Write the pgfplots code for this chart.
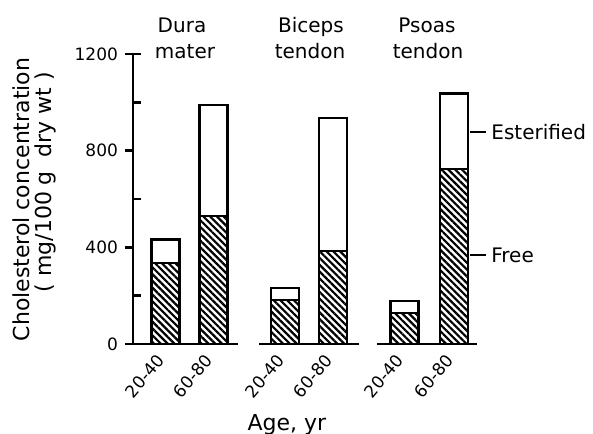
\documentclass[border=0pt]{standalone}
\usepackage{fontspec}
\setmainfont{DejaVu Sans}
\usepackage{pgfplots}
\pgfplotsset{compat=1.18}
\usetikzlibrary{patterns.meta}
% values in mg/100 g dry wt; x positions of bars
\pgfplotstableread{
x      free  total
165.5  335   434
213.5  530   989
285    182   232
333    385   935
404.5  128   178
454    724   1038
}\bars
\begin{document}
\begin{tikzpicture}
\begin{axis}[
  x=0.5pt, y=0.120833pt,
  xmin=133, xmax=480, ymin=0, ymax=1200,
  clip=false,
  axis x line*=bottom, axis y line*=left,
  x axis line style={draw=none},
  y axis line style={-, line width=1.4pt},
  tick align=outside, major tick length=4pt,
  ytick={0,400,800,1200},
  extra y ticks={200,600,1000,1200},
  extra y tick labels={},
  extra y tick style={major tick length=-4pt},
  ytick style={line width=1.2pt, black},
  xtick={165.5,213.5,285,333,404.5,454},
  xticklabels={20-40,60-80,20-40,60-80,20-40,60-80},
  xtick style={draw=none},
  xticklabel style={rotate=50, anchor=east, font=\fontsize{8.5}{10}\selectfont},
  yticklabel style={font=\fontsize{8.5}{10}\selectfont},
  /pgf/number format/1000 sep={},
  /pgf/number format/assume math mode=true,
]
% total bars (esterified part shows white)
\addplot[ybar, bar width=14pt, bar shift=0pt, fill=white, draw=black, line width=1.4pt]
  table[x=x, y=total] {\bars};
% free part (hatched)
\addplot[ybar, bar width=14pt, bar shift=0pt, draw=black, line width=1.4pt,
  pattern={Lines[angle=-45, distance=2.4pt, line width=1.1pt]}, pattern color=black]
  table[x=x, y=free] {\bars};
% group baselines
\addplot[sharp plot, black, line width=1.4pt] coordinates {(133,0) (238,0)};
\addplot[sharp plot, black, line width=1.4pt] coordinates {(259,0) (359,0)};
\addplot[sharp plot, black, line width=1.4pt] coordinates {(377,0) (477,0)};
% side labels
\draw[line width=0.8pt] (axis cs:470,877) -- (axis cs:486,877);
\node[anchor=west, inner sep=0pt, font=\fontsize{10}{12}\selectfont] at (axis cs:491,877) {Esterified};
\draw[line width=0.8pt] (axis cs:470,368) -- (axis cs:486,368);
\node[anchor=west, inner sep=0pt, font=\fontsize{10}{12}\selectfont] at (axis cs:491,368) {Free};
% group titles
\node[anchor=base, font=\fontsize{10}{12}\selectfont] at (axis cs:182,1291) {Dura};
\node[anchor=base, font=\fontsize{10}{12}\selectfont] at (axis cs:185,1183) {mater};
\node[anchor=base, font=\fontsize{10}{12}\selectfont] at (axis cs:311,1291) {Biceps};
\node[anchor=base, font=\fontsize{10}{12}\selectfont] at (axis cs:310,1183) {tendon};
\node[anchor=base, font=\fontsize{10}{12}\selectfont] at (axis cs:427,1291) {Psoas};
\node[anchor=base, font=\fontsize{10}{12}\selectfont] at (axis cs:428,1183) {tendon};
% axis titles
\node[rotate=90, anchor=base, font=\fontsize{11}{13}\selectfont] at (axis cs:30,598) {Cholesterol concentration};
\node[rotate=90, anchor=base, font=\fontsize{11}{13}\selectfont] at (axis cs:52,670) {( mg/100 g\ \ dry wt )};
\node[anchor=base, font=\fontsize{11}{13}\selectfont] at (axis cs:287,-356) {Age, yr};
\coordinate (bbtl) at (axis cs:0,1423.4);
\coordinate (bbbr) at (axis cs:593,-372.4);
\end{axis}
\pgfresetboundingbox
\path[use as bounding box] (bbtl) rectangle (bbbr);
\end{tikzpicture}
\end{document}
